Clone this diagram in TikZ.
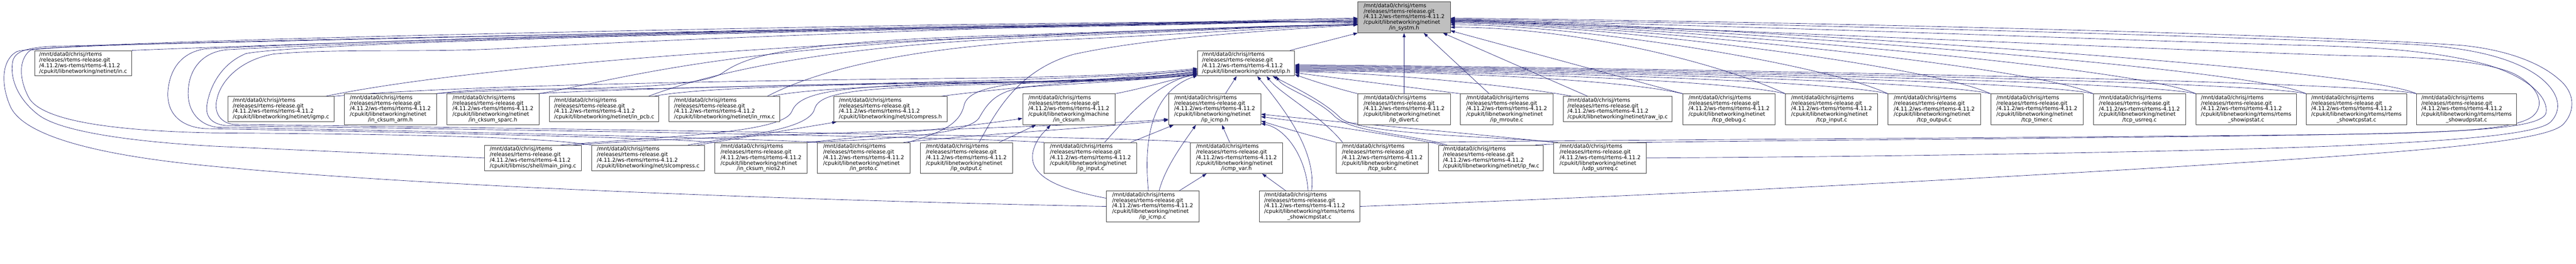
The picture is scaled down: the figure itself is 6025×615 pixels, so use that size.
\documentclass[tikz,border=0pt]{standalone}
\usepackage{fontspec}
\setmainfont{DejaVu Sans}
\usetikzlibrary{arrows.meta}
\definecolor{edgec}{RGB}{25,25,112}
\definecolor{nodeb}{RGB}{64,64,64}
\definecolor{rootf}{RGB}{191,191,191}
\pgfdeclarelayer{bg}
\pgfsetlayers{bg,main}
\newcommand{\pfx}{/mnt/data0/chrisj/rtems\\/releases/rtems-release.git\\/4.11.2/ws-rtems/rtems-4.11.2}
\newcommand{\fourl}[1]{\begin{tabular}{@{}l@{}}\pfx\\#1\end{tabular}}
\newcommand{\fivel}[2]{\begin{tabular}{@{}l@{}}\pfx\\#1\\\multicolumn{1}{@{}c@{}}{#2}\end{tabular}}
\tikzset{
 box/.style={draw=nodeb, line width=1pt, fill=white, inner sep=0pt, font=\fontsize{12.4}{12.6}\selectfont},
 bfour/.style={box, minimum height=59pt},
 bfive/.style={box, minimum height=72pt},
 e/.style={draw=edgec, line width=0.8pt, -{Triangle[length=10pt,width=7pt]}},
}
\begin{document}
\begin{tikzpicture}[x=1pt,y=-1pt]
\useasboundingbox (0,0) rectangle (6025,615);
% ---------- nodes ----------
\node[bfive, fill=rootf, minimum width=216pt] (root) at (3284,40.5) {\fivel{/cpukit/libnetworking/netinet}{/in\_systm.h}};
\node[bfour, minimum width=227pt] (inc) at (194.5,147.5) {\fourl{/cpukit/libnetworking/netinet/in.c}};
\node[bfour, minimum width=227pt] (iph) at (2914.5,147.5) {\fourl{/cpukit/libnetworking/netinet/ip.h}};
\node[bfour, minimum width=248pt] (igmp) at (657,254.5) {\fourl{/cpukit/libnetworking/netinet/igmp.c}};
\node[bfive, minimum width=216pt] (arm) at (913,255) {\fivel{/cpukit/libnetworking/netinet}{/in\_cksum\_arm.h}};
\node[bfive, minimum width=216pt] (sparc) at (1153,255) {\fivel{/cpukit/libnetworking/netinet}{/in\_cksum\_sparc.h}};
\node[bfour, minimum width=256pt] (pcb) at (1413,254.5) {\fourl{/cpukit/libnetworking/netinet/in\_pcb.c}};
\node[bfour, minimum width=259pt] (rmx) at (1694.5,254.5) {\fourl{/cpukit/libnetworking/netinet/in\_rmx.c}};
\node[bfour, minimum width=265pt] (slh) at (2082.5,254.5) {\fourl{/cpukit/libnetworking/net/slcompress.h}};
\node[bfive, minimum width=216pt] (mcks) at (2500,255) {\fivel{/cpukit/libnetworking/machine}{/in\_cksum.h}};
\node[bfive, minimum width=216pt] (icmph) at (2841,255) {\fivel{/cpukit/libnetworking/netinet}{/ip\_icmp.h}};
\node[bfive, minimum width=216pt] (divert) at (3284,255) {\fivel{/cpukit/libnetworking/netinet}{/ip\_divert.c}};
\node[bfive, minimum width=216pt] (mroute) at (3524,255) {\fivel{/cpukit/libnetworking/netinet}{/ip\_mroute.c}};
\node[bfour, minimum width=255pt] (rawip) at (3783.5,254.5) {\fourl{/cpukit/libnetworking/netinet/raw\_ip.c}};
\node[bfive, minimum width=216pt] (tdebug) at (4044,255) {\fivel{/cpukit/libnetworking/netinet}{/tcp\_debug.c}};
\node[bfive, minimum width=216pt] (tinput) at (4284,255) {\fivel{/cpukit/libnetworking/netinet}{/tcp\_input.c}};
\node[bfive, minimum width=216pt] (toutput) at (4524,255) {\fivel{/cpukit/libnetworking/netinet}{/tcp\_output.c}};
\node[bfive, minimum width=216pt] (ttimer) at (4764,255) {\fivel{/cpukit/libnetworking/netinet}{/tcp\_timer.c}};
\node[bfive, minimum width=216pt] (tusr) at (5004,255) {\fivel{/cpukit/libnetworking/netinet}{/tcp\_usrreq.c}};
\node[bfive, minimum width=235pt] (sip) at (5253.5,255) {\fivel{/cpukit/libnetworking/rtems/rtems}{\_showipstat.c}};
\node[bfive, minimum width=235pt] (stcp) at (5511.5,255) {\fivel{/cpukit/libnetworking/rtems/rtems}{\_showtcpstat.c}};
\node[bfive, minimum width=234pt] (sudp) at (5769,255) {\fivel{/cpukit/libnetworking/rtems/rtems}{\_showudpstat.c}};
\node[bfour, minimum width=227pt] (ping) at (1246.5,368.5) {\fourl{/cpukit/libmisc/shell/main\_ping.c}};
\node[bfour, minimum width=264pt] (slc) at (1516,368.5) {\fourl{/cpukit/libnetworking/net/slcompress.c}};
\node[bfive, minimum width=216pt] (nios) at (1780,368.5) {\fivel{/cpukit/libnetworking/netinet}{/in\_cksum\_nios2.h}};
\node[bfive, minimum width=216pt] (proto) at (2020,368.5) {\fivel{/cpukit/libnetworking/netinet}{/in\_proto.c}};
\node[bfive, minimum width=216pt] (ipout) at (2260,368.5) {\fivel{/cpukit/libnetworking/netinet}{/ip\_output.c}};
\node[bfive, minimum width=217pt] (ipin) at (2550.5,368.5) {\fivel{/cpukit/libnetworking/netinet}{/ip\_input.c}};
\node[bfive, minimum width=216pt] (icmpvar) at (2892,368.5) {\fivel{/cpukit/libnetworking/netinet}{/icmp\_var.h}};
\node[bfive, minimum width=216pt] (tsubr) at (3233,368.5) {\fivel{/cpukit/libnetworking/netinet}{/tcp\_subr.c}};
\node[bfour, minimum width=245pt] (ipfw) at (3487.5,368.5) {\fourl{/cpukit/libnetworking/netinet/ip\_fw.c}};
\node[bfive, minimum width=217pt] (udp) at (3742.5,368.5) {\fivel{/cpukit/libnetworking/netinet}{/udp\_usrreq.c}};
\node[bfive, minimum width=216pt] (icmpc) at (2696,481.5) {\fivel{/cpukit/libnetworking/netinet}{/ip\_icmp.c}};
\node[bfive, minimum width=235pt] (sicmp) at (3062.5,481.5) {\fivel{/cpukit/libnetworking/rtems/rtems}{\_showicmpstat.c}};
% ---------- edges ----------
\begin{pgfonlayer}{bg}
\fill[white] (0,0) rectangle (6025,615);
% to root, left side (loops and long lines)
\draw[e] (inc.north east) .. controls (700,102) and (1600,74) .. (2300,62) .. controls (2800,54) and (3050,46) .. (root.182);
\draw[e] (icmpc.west) .. controls (1900,468) and (1000,436) .. (500,388) .. controls (250,365) and (60,322) .. (25,250) .. controls (2,200) and (2,140) .. (40,120) .. controls (120,97) and (1500,70) .. (2200,58) .. controls (2700,51) and (3000,48) .. (root.188);
\draw[e] (ping.west) .. controls (1000,363) and (700,350) .. (500,341) .. controls (300,330) and (140,306) .. (90,268) .. controls (40,230) and (22,180) .. (30,142) .. controls (36,120) and (60,112) .. (120,108) .. controls (1200,84) and (2000,64) .. (2400,58) .. controls (2800,52) and (3050,46) .. (root.187);
\draw[e] (slc.north west) .. controls (1250,316) and (800,312) .. (500,310) .. controls (300,306) and (110,288) .. (70,232) .. controls (45,190) and (42,140) .. (70,118) .. controls (100,100) and (1400,80) .. (2300,62) .. controls (2800,54) and (3050,47) .. (root.186);
\draw[e] (nios.north west) .. controls (1500,318) and (700,304) .. (480,300) .. controls (420,296) and (388,262) .. (393,210) .. controls (398,160) and (425,122) .. (480,114) .. controls (900,92) and (1800,70) .. (2300,63) .. controls (2800,56) and (3050,48) .. (root.185);
\draw[e] (proto.north west) .. controls (1700,320) and (700,300) .. (510,297) .. controls (468,293) and (440,262) .. (440,218) .. controls (440,165) and (470,122) .. (530,116) .. controls (900,96) and (1800,72) .. (2300,64) .. controls (2800,57) and (3050,49) .. (root.184);
\draw[e] (ipin.north west) .. controls (2200,316) and (700,296) .. (530,293) .. controls (495,290) and (480,272) .. (484,245) .. controls (490,205) and (515,150) .. (575,125) .. controls (700,100) and (1800,74) .. (2300,66) .. controls (2800,58) and (3050,50) .. (root.183);
\draw[e] (icmpvar.north west) .. controls (2700,318) and (800,294) .. (545,290) .. controls (515,286) and (500,262) .. (507,233) .. controls (515,190) and (560,140) .. (640,126) .. controls (800,112) and (1000,124) .. (1200,112) .. controls (1600,88) and (2800,48) .. (root.181);
\draw[e] ([xshift=-20pt]igmp.north east) .. controls (1000,175) and (1500,125) .. (2200,92) .. controls (2700,70) and (3000,58) .. (root.189);
\draw[e] ([xshift=-5pt]arm.north east) .. controls (1300,200) and (1620,215) .. (1690,170) .. controls (1750,128) and (1850,100) .. (2300,84) .. controls (2800,68) and (3050,58) .. (root.189);
\draw[e] (sparc.north east) .. controls (1450,185) and (1650,120) .. (2300,88) .. controls (2800,70) and (3050,58) .. (root.189);
\draw[e] ([xshift=-25pt]pcb.north east) .. controls (1650,175) and (1900,110) .. (2400,88) .. controls (2850,70) and (3050,58) .. (root.189);
\draw[e] ([xshift=-30pt]rmx.north east) .. controls (1900,170) and (2100,110) .. (2500,92) .. controls (2850,76) and (3050,60) .. (root.189);
\draw[e] ([xshift=30pt]ipout.north) .. controls (2330,260) and (2380,165) .. (2510,127) .. controls (2700,85) and (3000,70) .. (root.189);
% to ip.h, left side
\draw[e] (igmp.north east) .. controls (1000,205) and (1500,190) .. (2300,182) .. controls (2600,178) and (2720,168) .. (iph.186);
\draw[e] (arm.north east) .. controls (1150,200) and (1350,212) .. (1600,205) .. controls (2000,195) and (2600,185) .. (iph.188);
\draw[e] ([xshift=-10pt]sparc.north east) .. controls (1500,205) and (2000,195) .. (2400,190) .. controls (2650,186) and (2740,174) .. (iph.189);
\draw[e] ([xshift=-12pt]pcb.north east) .. controls (1650,200) and (2100,195) .. (2450,190) .. controls (2650,186) and (2740,176) .. (iph.190);
\draw[e] ([xshift=-18pt]rmx.north east) .. controls (1880,205) and (2200,195) .. (2500,190) .. controls (2680,186) and (2740,178) .. (iph.191);
\draw[e] ([xshift=-15pt]slh.north east) .. controls (2350,205) and (2650,180) .. (iph.187);
\draw[e] (mcks.north east) .. controls (2680,205) and (2740,185) .. (iph.193);
\draw[e] ([xshift=-50pt]ping.north east) .. controls (1550,318) and (1830,312) .. (1852,260) .. controls (1870,215) and (1950,200) .. (2300,193) .. controls (2600,187) and (2740,180) .. (iph.192);
\draw[e] ([xshift=-40pt]slc.north east) .. controls (1720,318) and (1890,305) .. (1905,255) .. controls (1915,215) and (2000,205) .. (2300,197) .. controls (2600,190) and (2740,182) .. (iph.193);
\draw[e] ([xshift=-5pt]proto.north east) .. controls (2200,310) and (2245,290) .. (2255,245) .. controls (2265,205) and (2350,192) .. (2520,186) .. controls (2650,182) and (2740,176) .. (iph.190);
\draw[e] (nios.north east) .. controls (2050,325) and (2260,318) .. (2290,275) .. controls (2310,240) and (2330,212) .. (2400,203) .. controls (2600,190) and (2740,182) .. (iph.192);
\draw[e] ([xshift=33pt]ipin.north) .. controls (2640,270) and (2700,195) .. (iph.192);
\draw[e] ([xshift=-10pt]icmpc.north) .. controls (2675,330) and (2690,215) .. (iph.194);
% slcompress.h and machine/in_cksum.h
\draw[e] ([xshift=-18pt]slc.north east) -- ([xshift=7pt]slh.south west);
\draw[e] (nios.north east) .. controls (2100,312) and (2300,290) .. (mcks.191);
\draw[e] ([xshift=77pt]ipout.north) -- ([xshift=-77pt]mcks.south);
\draw[e] (icmpc.170) .. controls (2470,440) and (2410,410) .. (2415,360) .. controls (2420,325) and (2445,305) .. ([xshift=-43pt]mcks.south);
% ip_icmp.h
\draw[e] ([xshift=-20pt]ping.north east) .. controls (1700,312) and (2450,300) .. (icmph.192);
\draw[e] ([xshift=-15pt]proto.north east) .. controls (2300,312) and (2550,300) .. (icmph.193);
\draw[e] ([xshift=-15pt]ipin.north east) -- ([xshift=-96pt]icmph.south);
\draw[e] ([xshift=15pt]icmpc.north) .. controls (2725,390) and (2770,330) .. ([xshift=-44pt]icmph.south);
\draw[e] ([xshift=-16pt]icmpvar.north) -- ([xshift=17pt]icmph.south);
\draw[e] (tsubr.north west) .. controls (3060,315) and (3000,298) .. (icmph.-14);
\draw[e] ([xshift=12pt]ipfw.north west) .. controls (3250,312) and (3050,285) .. (icmph.-9);
\draw[e] (udp.north west) .. controls (3450,312) and (3100,282) .. (icmph.-6);
\draw[e] ([xshift=-3pt]sicmp.north) .. controls (3055,370) and (3010,300) .. (icmph.-17);
% icmp_var.h
\draw[e] ([xshift=62pt]icmpc.north) -- ([xshift=-70pt]icmpvar.south);
\draw[e] ([xshift=-55pt]sicmp.north) -- ([xshift=60pt]icmpvar.south);
% ip.h, bottom
\draw[e] ([xshift=25pt]icmph.north) -- ([xshift=-22pt]iph.south);
\draw[e] (divert.north west) .. controls (3120,205) and (3060,185) .. (iph.-13);
\draw[e] ([xshift=-93pt]tsubr.north) .. controls (3090,270) and (2990,215) .. ([xshift=48pt]iph.south);
\draw[e] ([xshift=20pt]ipfw.north west) .. controls (3300,312) and (3160,310) .. (3120,270) .. controls (3080,230) and (3000,205) .. ([xshift=70pt]iph.south);
\draw[e] ([xshift=10pt]udp.north west) .. controls (3500,318) and (3180,315) .. (3135,275) .. controls (3095,235) and (3020,200) .. ([xshift=62pt]iph.south);
\draw[e] ([xshift=5pt]sicmp.north) .. controls (3080,350) and (3000,250) .. ([xshift=26pt]iph.south);
% ip.h, right side
\draw[e] (mroute.north west) -- (iph.-11);
\draw[e] ([xshift=21pt]rawip.north west) .. controls +(-100,-20) and +(200,0) .. (iph.-10);
\draw[e] (tdebug.north west) .. controls +(-150,-35) and +(300,0) .. (iph.-9);
\draw[e] (tinput.north west) .. controls +(-150,-35) and +(300,0) .. (iph.-8);
\draw[e] (toutput.north west) .. controls +(-150,-35) and +(300,0) .. (iph.-7);
\draw[e] (ttimer.north west) .. controls +(-150,-35) and +(300,0) .. (iph.-6);
\draw[e] (tusr.north west) .. controls +(-150,-35) and +(300,0) .. (iph.-5);
\draw[e] (sip.north west) .. controls +(-150,-35) and +(300,0) .. (iph.-4);
\draw[e] (stcp.north west) .. controls +(-150,-35) and +(300,0) .. (iph.-3);
\draw[e] (sudp.north west) .. controls +(-150,-35) and +(300,0) .. (iph.-2);
% root, bottom
\draw[e] ([xshift=-11pt]iph.north east) -- (root.south west);
\draw[e] (divert.north) -- (root.south);
\draw[e] ([xshift=-41pt]mroute.north) -- ([xshift=46pt]root.south);
\draw[e] ([xshift=-70pt]rawip.north) -- ([xshift=91pt]root.south);
% root, right side
\draw[e] (tdebug.north west) -- (root.-16);
\draw[e] (tinput.north west) .. controls +(-150,-70) and +(300,0) .. (root.-12);
\draw[e] (toutput.north west) .. controls +(-150,-70) and +(300,0) .. (root.-9);
\draw[e] (ttimer.north west) .. controls +(-150,-70) and +(300,0) .. (root.-7);
\draw[e] (tusr.north west) .. controls +(-150,-70) and +(300,0) .. (root.-6);
\draw[e] (sip.north west) .. controls +(-150,-70) and +(300,0) .. (root.-5);
\draw[e] (stcp.north west) .. controls +(-150,-70) and +(300,0) .. (root.-4);
\draw[e] (sudp.north west) .. controls +(-150,-70) and +(300,0) .. (root.-3);
% root, right loops
\draw[e] (sicmp.east) .. controls (4000,452) and (5000,398) .. (5500,362) .. controls (5800,340) and (5965,320) .. (5995,290) .. controls (6025,258) and (6022,215) .. (5985,185) .. controls (5940,145) and (5860,116) .. (5760,106) .. controls (5400,80) and (4200,50) .. (root.-1);
\draw[e] (udp.east) .. controls (4500,365) and (5200,352) .. (5500,339) .. controls (5760,327) and (5935,312) .. (5965,285) .. controls (5995,255) and (5985,215) .. (5940,180) .. controls (5880,135) and (5780,112) .. (5650,104) .. controls (5300,88) and (4200,55) .. (root.-2);
\draw[e] ([xshift=-20pt]ipfw.north east) .. controls (3620,330) and (5000,323) .. (5500,313) .. controls (5790,307) and (5950,298) .. (5955,262) .. controls (5960,222) and (5905,178) .. (5820,152) .. controls (5700,118) and (5550,110) .. (5400,106) .. controls (5000,96) and (4200,62) .. (root.-3);
\draw[e] (tsubr.north east) .. controls (3500,328) and (5000,320) .. (5500,313) .. controls (5760,309) and (5890,300) .. (5925,270) .. controls (5955,242) and (5935,200) .. (5880,172) .. controls (5810,140) and (5650,132) .. (5500,130) .. controls (5100,118) and (4200,75) .. (root.-4);
\end{pgfonlayer}
\end{tikzpicture}
\end{document}
